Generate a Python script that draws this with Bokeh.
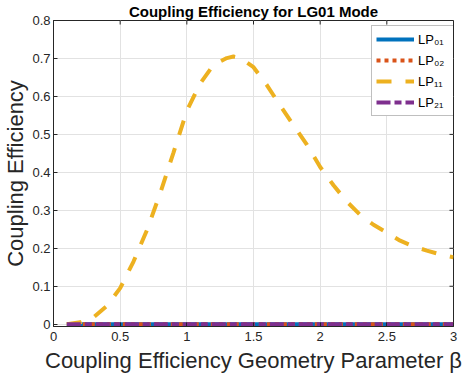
import math
from bokeh.plotting import figure
from bokeh.models import Range1d, Legend, LegendItem, FixedTicker
from bokeh.embed import file_html
from bokeh.resources import INLINE

# ---- data ----
beta = [0.1, 0.2, 0.3, 0.4, 0.5, 0.6, 0.7, 0.8, 0.9, 1.0, 1.1, 1.2, 1.3, 1.35, 1.4,
        1.5, 1.6, 1.7, 1.8, 1.9, 2.0, 2.1, 2.2, 2.3, 2.4, 2.5, 2.6, 2.7, 2.8, 2.9, 3.0]
lp01 = [0, 0, 0, 0, 0, 0, 0, 0, 0, 0, 0, 0, 0, 0, 0, 0, 0, 0, 0, 0, 0, 0, 0, 0, 0, 0, 0, 0, 0, 0, 0]
lp02 = [0, 0, 0, 0, 0, 0, 0, 0, 0, 0, 0, 0, 0, 0, 0, 0, 0, 0, 0, 0, 0, 0, 0, 0, 0, 0, 0, 0, 0, 0, 0]
lp11 = [0.000, 0.005, 0.018, 0.048, 0.095, 0.165, 0.247, 0.345, 0.452, 0.562, 0.634, 0.683,
        0.701, 0.705, 0.702, 0.677, 0.630, 0.576, 0.524, 0.473, 0.414, 0.366, 0.323, 0.288,
        0.262, 0.241, 0.220, 0.205, 0.194, 0.184, 0.176]
lp21 = [0, 0, 0, 0, 0, 0, 0, 0, 0, 0, 0, 0, 0, 0, 0, 0, 0, 0, 0, 0, 0, 0, 0, 0, 0, 0, 0, 0, 0, 0, 0]

series_labels = ["LP\u2080\u2081", "LP\u2080\u2082", "LP\u2081\u2081", "LP\u2082\u2081"]
x_ticks = [0, 0.5, 1, 1.5, 2, 2.5, 3]
x_tick_labels = ["0", "0.5", "1", "1.5", "2", "2.5", "3"]
y_ticks = [0, 0.1, 0.2, 0.3, 0.4, 0.5, 0.6, 0.7, 0.8]
y_tick_labels = ["0", "0.1", "0.2", "0.3", "0.4", "0.5", "0.6", "0.7", "0.8"]

title_text = "Coupling Efficiency for LG01 Mode"
x_label = "Coupling Efficiency Geometry Parameter \u03b2"
y_label = "Coupling Efficiency"

# ---- styling ----
FONT = "Liberation Sans"
AX = "#262626"
colors = ["#0072BD", "#D95319", "#EDB120", "#7E2F8E"]
X_MIN, X_MAX, Y_MIN, Y_MAX = 0, 3, -0.006, 0.8

p = figure(width=464, height=375, x_range=Range1d(X_MIN, X_MAX), y_range=Range1d(Y_MIN, Y_MAX),
           output_backend="svg", toolbar_location=None,
           min_border_left=10, min_border_right=11, min_border_top=0, min_border_bottom=0)

p.title.text = title_text
p.title.text_font = FONT
p.title.text_font_size = "15px"
p.title.text_font_style = "bold"
p.title.text_color = "black"
p.title.align = "center"
p.title.standoff = 1
p.title.offset = 0

p.outline_line_color = AX
p.outline_line_alpha = 1
p.background_fill_color = "white"
p.border_fill_color = "white"

for ax, ticks, labels in ((p.xaxis[0], x_ticks, x_tick_labels), (p.yaxis[0], y_ticks, y_tick_labels)):
    ax.ticker = FixedTicker(ticks=ticks)
    ax.major_label_overrides = {float(t): l for t, l in zip(ticks, labels)}
    ax.major_tick_in = 4
    ax.major_tick_out = 0
    ax.minor_tick_line_color = None
    ax.axis_line_color = AX
    ax.major_tick_line_color = AX
    ax.major_label_text_font = FONT
    ax.major_label_text_font_size = "13px"
    ax.major_label_text_color = AX
    ax.axis_label_text_font = FONT
    ax.axis_label_text_font_size = "22px"
    ax.axis_label_text_font_style = "normal"
    ax.axis_label_text_color = AX

p.xaxis[0].axis_label = x_label
p.yaxis[0].axis_label = y_label
p.xaxis[0].major_label_standoff = 5
p.xaxis[0].axis_label_standoff = 4
p.yaxis[0].major_label_standoff = 3
p.yaxis[0].axis_label_standoff = 1

p.xgrid.ticker = FixedTicker(ticks=x_ticks)
p.ygrid.ticker = FixedTicker(ticks=y_ticks)
p.grid.grid_line_color = "#e2e2e2"
p.grid.grid_line_width = 1

# inward tick marks on the top and right edges of the box
p.ray(x=x_ticks, y=[Y_MAX] * len(x_ticks), length=4, length_units="screen",
      angle=-math.pi / 2, line_color=AX, line_width=1)
p.ray(x=[X_MAX] * len(y_ticks), y=y_ticks, length=4, length_units="screen",
      angle=math.pi, line_color=AX, line_width=1)

r1 = p.line(beta, lp01, line_color=colors[0], line_width=4)
r2 = p.line(beta, lp02, line_color=colors[1], line_width=4, line_dash="4 4")
r3 = p.line(beta, lp11, line_color=colors[2], line_width=4, line_dash="15 14")
r4 = p.line(beta, lp21, line_color=colors[3], line_width=4, line_dash="14 4 7 4")

legend = Legend(items=[LegendItem(label=lab, renderers=[r]) for lab, r in zip(series_labels, [r1, r2, r3, r4])],
                location=(318, 210), margin=0, padding=4, spacing=3,
                glyph_width=38, glyph_height=18, label_standoff=4, label_width=36,
                label_text_font=FONT, label_text_font_size="13px", label_text_color="black",
                border_line_color="#7f7f7f", border_line_width=1,
                background_fill_color="white", background_fill_alpha=1)
p.add_layout(legend)

open("out.html", "w").write(file_html(p, INLINE))
